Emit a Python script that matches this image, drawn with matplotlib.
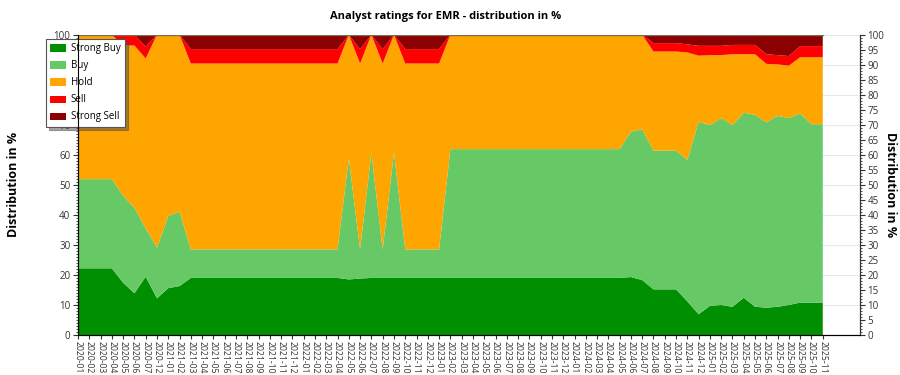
import matplotlib
matplotlib.use('Agg')
import matplotlib.pyplot as plt
from matplotlib.ticker import MultipleLocator
import pandas as pd

plt.rcParams['font.family'] = ['Open Sans', 'DejaVu Sans']

# months shown on the x axis (2020-08 .. 2020-11 are missing)
months = ['2020-01', '2020-02', '2020-03', '2020-04', '2020-05', '2020-06', '2020-07'] + \
    [str(p) for p in pd.period_range('2020-12', '2025-11', freq='M')]

# distribution in % per month
strong_buy = [
    22.2, 22.2, 22.2, 22.2, 17.4, 13.9, 19.4,
    12.2,
    15.6, 16.3, 19.0, 19.0, 19.0, 19.0, 19.0, 19.0, 19.0, 19.0, 19.0, 19.0,
    19.0, 19.0, 19.0, 19.0, 18.5, 18.8, 19.0, 19.0, 19.0, 19.0, 19.0, 19.0,
    19.0, 19.0, 19.0, 19.0, 19.0, 19.0, 19.0, 19.0, 19.0, 19.0, 19.0, 19.0,
    19.0, 19.0, 19.0, 19.0, 19.0, 19.3, 18.3, 15.2, 15.2, 15.2, 11.2, 6.9,
    9.7, 10.0, 9.4, 12.4, 9.4, 9.1, 9.4, 10.0, 10.8, 10.8, 10.8,
]
buy = [
    29.7, 29.7, 29.7, 29.7, 29.0, 28.5, 16.1,
    16.9,
    24.0, 24.8, 9.5, 9.5, 9.5, 9.5, 9.5, 9.5, 9.5, 9.5, 9.5, 9.5,
    9.5, 9.5, 9.5, 9.5, 40.3, 9.8, 41.7, 9.5, 41.7, 9.5, 9.5, 9.5,
    9.5, 42.9, 42.9, 42.9, 42.9, 42.9, 42.9, 42.9, 42.9, 42.9, 42.9, 42.9,
    42.9, 42.9, 42.9, 42.9, 42.9, 48.4, 50.2, 46.2, 46.2, 46.2, 47.1, 64.1,
    60.2, 62.2, 60.5, 61.6, 63.9, 61.7, 63.6, 62.2, 63.0, 59.4, 59.4,
]
hold = [
    48.1, 48.1, 48.1, 48.1, 50.0, 54.0, 56.6,
    70.9,
    60.4, 58.9, 61.9, 61.9, 61.9, 61.9, 61.9, 61.9, 61.9, 61.9, 61.9, 61.9,
    61.9, 61.9, 61.9, 61.9, 41.2, 61.8, 39.3, 61.9, 39.3, 61.9, 61.9, 61.9,
    61.9, 38.1, 38.1, 38.1, 38.1, 38.1, 38.1, 38.1, 38.1, 38.1, 38.1, 38.1,
    38.1, 38.1, 38.1, 38.1, 38.1, 32.3, 31.5, 33.0, 33.0, 33.0, 35.8, 22.0,
    23.3, 21.0, 23.6, 19.5, 20.2, 19.5, 17.1, 17.5, 18.7, 22.3, 22.3,
]
sell = [
    0, 0, 0, 0, 3.6, 3.6, 3.9,
    0,
    0, 0, 4.8, 4.8, 4.8, 4.8, 4.8, 4.8, 4.8, 4.8, 4.8, 4.8,
    4.8, 4.8, 4.8, 4.8, 0, 4.8, 0, 4.8, 0, 4.8, 4.8, 4.8,
    4.8, 0, 0, 0, 0, 0, 0, 0, 0, 0, 0, 0,
    0, 0, 0, 0, 0, 0, 0, 2.8, 2.8, 2.8, 2.7, 3.3,
    3.1, 3.1, 3.1, 3.1, 3.1, 3.2, 3.1, 3.2, 3.7, 3.7, 3.7,
]
strong_sell = [
    0, 0, 0, 0, 0, 0, 4.0,
    0,
    0, 0, 4.8, 4.8, 4.8, 4.8, 4.8, 4.8, 4.8, 4.8, 4.8, 4.8,
    4.8, 4.8, 4.8, 4.8, 0, 4.8, 0, 4.8, 0, 4.8, 4.8, 4.8,
    4.8, 0, 0, 0, 0, 0, 0, 0, 0, 0, 0, 0,
    0, 0, 0, 0, 0, 0, 0, 2.8, 2.8, 2.8, 3.2, 3.7,
    3.7, 3.7, 3.4, 3.4, 3.4, 6.5, 6.8, 7.1, 3.8, 3.8, 3.8,
]

labels = ['Strong Buy', 'Buy', 'Hold', 'Sell', 'Strong Sell']
colors = ['#008f00', '#66c966', '#ffa500', '#ff0000', '#8b0000']

x = list(range(len(months)))

fig = plt.figure(figsize=(9, 3.75), dpi=100)
ax = fig.add_axes([78 / 900, 40 / 375, 782 / 900, 300.3 / 375])

ax.stackplot(x, strong_buy, buy, hold, sell, strong_sell,
             labels=labels, colors=colors, linewidth=0, zorder=2)
total = [a + b + c + d + e for a, b, c, d, e in zip(strong_buy, buy, hold, sell, strong_sell)]
ax.plot(x, total, color='#7a6a5a', lw=1, zorder=3)

ax.set_xlim(0, 69.3)
ax.set_ylim(0, 100)
ax.set_xticks(x)
ax.set_xticklabels(months, rotation=270, fontsize=6.2, color='#333333')
ax.tick_params(axis='x', length=3, pad=1, color='#333333')

ax.yaxis.set_major_locator(MultipleLocator(10))
ax.yaxis.set_minor_locator(MultipleLocator(1))
ax.tick_params(axis='y', which='major', length=3.5, pad=2, labelsize=7, labelcolor='#333333', color='#333333')
ax.tick_params(axis='y', which='minor', length=1.5, color='#333333')
ax.grid(axis='y', color='#e8e8e8', lw=0.8, zorder=0)
ax.set_axisbelow(True)

for side in ['left', 'bottom', 'right']:
    ax.spines[side].set_color('#333333')
ax.spines['top'].set_visible(False)

ax2 = ax.twinx()
ax2.set_ylim(0, 100)
ax2.yaxis.set_major_locator(MultipleLocator(5))
ax2.yaxis.set_minor_locator(MultipleLocator(1))
ax2.tick_params(axis='y', which='major', length=3.5, pad=2, labelsize=7, labelcolor='#333333', color='#333333')
ax2.tick_params(axis='y', which='minor', length=1.5, color='#333333')
ax2.spines['top'].set_visible(False)
ax2.spines['right'].set_color('#333333')

ax.set_ylabel('Distribution in %', fontsize=9, fontweight='bold', labelpad=24)
ax2.set_ylabel('Distribution in %', fontsize=9, fontweight='bold', rotation=270, labelpad=9)

fig.suptitle('Analyst ratings for EMR - distribution in %', fontsize=8, fontweight='bold',
             x=0.495, y=0.97)

leg = ax.legend(loc='upper left', bbox_to_anchor=(46 / 900, 1 - 39 / 375),
                bbox_transform=fig.transFigure, fontsize=7, frameon=True, fancybox=False,
                shadow=True, edgecolor='#555555', handlelength=1.6, handleheight=0.75,
                labelspacing=0.62, borderpad=0.45, handletextpad=0.5, borderaxespad=0)
leg.get_frame().set_linewidth(0.8)

fig.savefig('out.png', dpi=100)
